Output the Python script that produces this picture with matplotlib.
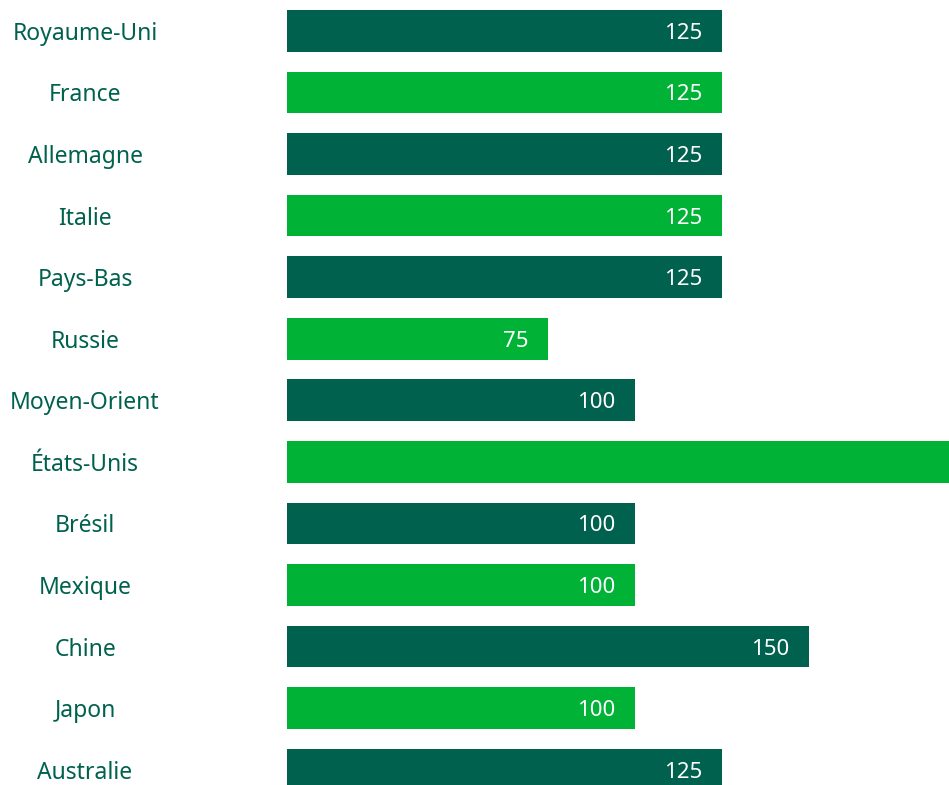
import matplotlib
matplotlib.use("Agg")
import matplotlib.pyplot as plt

# Data
countries = ["Royaume-Uni", "France", "Allemagne", "Italie", "Pays-Bas", "Russie",
             "Moyen-Orient", "États-Unis", "Brésil", "Mexique", "Chine", "Japon", "Australie"]
values = [125, 125, 125, 125, 125, 75, 100, 225, 100, 100, 150, 100, 125]

DARK = "#00614E"
LIGHT = "#00B336"
colors = [DARK if i % 2 == 0 else LIGHT for i in range(len(countries))]

W, H = 949, 785
fig = plt.figure(figsize=(W / 100, H / 100), dpi=100)
ax_left = 287 / W
ax = fig.add_axes([ax_left, 0, 1 - ax_left, 1])

ypos = list(range(len(countries)))
ax.barh(ypos, values, height=0.677, color=colors, zorder=2)

row = 61.58
ax.set_ylim(12 + (H - (10 + 20.85 + 12 * row)) / row, -(10 + 20.85) / row)
ax.set_xlim(0, (W - 287) / 3.48)
ax.axis("off")

font = "Noto Sans"
for y, v in zip(ypos, values):
    ax.annotate(f"{v}", xy=(v, y), xytext=(-20 * 0.72, 0), textcoords="offset points",
                ha="right", va="center_baseline", color="white", fontsize=16, family=font,
                clip_on=True, annotation_clip=True)

# Category labels centred in the left margin
for y, name in zip(ypos, countries):
    _, fy = fig.transFigure.inverted().transform(ax.transData.transform((0, y)))
    fig.text(85 / W, fy, name, ha="center", va="center_baseline", color=DARK,
             fontsize=16.5, family=font)

fig.savefig("out.png", dpi=100, facecolor="white")
